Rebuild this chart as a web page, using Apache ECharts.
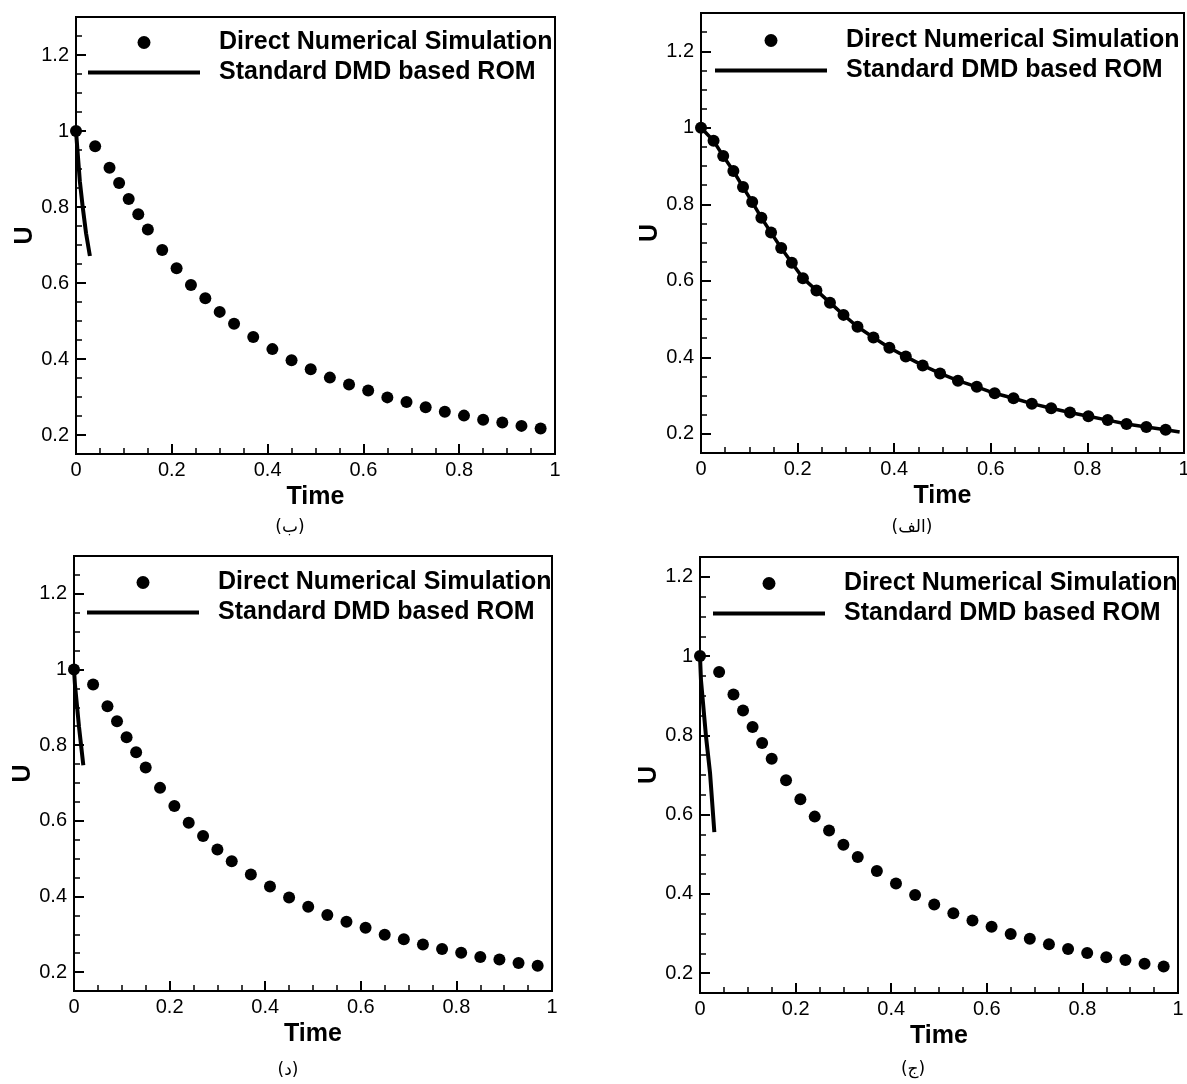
<!DOCTYPE html>
<html>
<head>
<meta charset="utf-8">
<title>DNS vs Standard DMD ROM</title>
<script src="https://cdn.jsdelivr.net/npm/echarts@6/dist/echarts.min.js"></script>
<style>
    html, body { margin: 0; padding: 0; background: #fff; }
    #chart { width: 1187px; height: 1084px; }
</style>
</head>
<body>
<div id="chart"></div>
<script>
// DNS markers used in panels ب, د and ج
var dnsTime = [0, 0.04, 0.07, 0.09, 0.11, 0.13, 0.15, 0.18, 0.21, 0.24, 0.27, 0.30, 0.33, 0.37, 0.41, 0.45, 0.49, 0.53, 0.57, 0.61, 0.65, 0.69, 0.73, 0.77, 0.81, 0.85, 0.89, 0.93, 0.97];
var dnsU = [1.0, 0.96, 0.903, 0.863, 0.821, 0.781, 0.741, 0.687, 0.639, 0.595, 0.560, 0.524, 0.493, 0.458, 0.426, 0.397, 0.373, 0.351, 0.333, 0.317, 0.299, 0.287, 0.273, 0.261, 0.251, 0.240, 0.233, 0.224, 0.217];

// panel الف : denser markers
var dnsTimeA = [0, 0.026, 0.046, 0.067, 0.087, 0.106, 0.125, 0.145, 0.166, 0.188, 0.211, 0.239, 0.267, 0.295, 0.324, 0.357, 0.390, 0.424, 0.459, 0.495, 0.532, 0.571, 0.608, 0.647, 0.685, 0.725, 0.764, 0.802, 0.842, 0.881, 0.922, 0.962];
var dnsUA = [1.0, 0.966, 0.926, 0.887, 0.845, 0.806, 0.765, 0.726, 0.686, 0.647, 0.607, 0.575, 0.543, 0.511, 0.480, 0.452, 0.425, 0.402, 0.379, 0.358, 0.339, 0.323, 0.306, 0.293, 0.279, 0.267, 0.256, 0.246, 0.236, 0.226, 0.218, 0.211];

// ROM curves
var romTimeA = [0, 0.026, 0.046, 0.067, 0.087, 0.106, 0.125, 0.145, 0.166, 0.188, 0.211, 0.239, 0.267, 0.295, 0.324, 0.357, 0.390, 0.424, 0.459, 0.495, 0.532, 0.571, 0.608, 0.647, 0.685, 0.725, 0.764, 0.802, 0.842, 0.881, 0.922, 0.962, 0.991];
var romUA = [1.0, 0.966, 0.926, 0.887, 0.845, 0.806, 0.765, 0.726, 0.686, 0.647, 0.607, 0.575, 0.543, 0.511, 0.480, 0.452, 0.425, 0.402, 0.379, 0.358, 0.339, 0.323, 0.306, 0.293, 0.279, 0.267, 0.256, 0.246, 0.236, 0.226, 0.218, 0.211, 0.205];
var romTimeB = [0, 0.003, 0.008, 0.014, 0.021, 0.029];
var romUB = [1.0, 0.95, 0.868, 0.80, 0.731, 0.671];
var romTimeD = [0, 0.002, 0.0105, 0.0195];
var romUD = [1.0, 0.96, 0.848, 0.747];
var romTimeJ = [0, 0.002, 0.0125, 0.021, 0.030];
var romUJ = [1.0, 0.94, 0.798, 0.705, 0.556];

var legendNames = ['Direct Numerical Simulation', 'Standard DMD based ROM'];
var yMajorTicks = [0.2, 0.4, 0.6, 0.8, 1.0, 1.2];
var yMinorTicks = [0.25, 0.3, 0.35, 0.45, 0.5, 0.55, 0.65, 0.7, 0.75, 0.85, 0.9, 0.95, 1.05, 1.1, 1.15, 1.25];

function zip(a, b) {
    return a.map(function (v, i) { return [v, b[i]]; });
}

var FONT = 'Liberation Sans, Arial, Helvetica, sans-serif';

var panels = [
    { grid: { left: 76, top: 17, width: 479, height: 437 }, yMax: 1.3,
      dns: zip(dnsTime, dnsU), rom: zip(romTimeB, romUB), romWidth: 4,
      legend: { left: 88, top: 30 }, caption: { text: '(ب)', x: 290, y: 528 } },
    { grid: { left: 701, top: 13, width: 483, height: 440 }, yMax: 1.3,
      dns: zip(dnsTimeA, dnsUA), rom: zip(romTimeA, romUA), romWidth: 3.5,
      legend: { left: 715, top: 28 }, caption: { text: '(الف)', x: 912, y: 528 } },
    { grid: { left: 74, top: 556, width: 478, height: 435 }, yMax: 1.3,
      dns: zip(dnsTime, dnsU), rom: zip(romTimeD, romUD), romWidth: 4,
      legend: { left: 87, top: 570 }, caption: { text: '(د)', x: 288, y: 1071 } },
    { grid: { left: 700, top: 557, width: 478, height: 436 }, yMax: 1.25,
      dns: zip(dnsTime, dnsU), rom: zip(romTimeJ, romUJ), romWidth: 4,
      legend: { left: 713, top: 571 }, caption: { text: '(ج)', x: 913, y: 1070 } }
];

var option = {
    animation: false,
    textStyle: { fontFamily: FONT, color: '#000' },
    grid: [], xAxis: [], yAxis: [], series: [], legend: [], graphic: []
};

panels.forEach(function (p, i) {
    option.grid.push(Object.assign({
        show: true, borderColor: '#000', borderWidth: 2, backgroundColor: 'transparent',
        outerBoundsMode: 'none', containLabel: false
    }, p.grid));

    option.xAxis.push({
        gridIndex: i, type: 'value', min: 0, max: 1, interval: 0.2,
        name: 'Time', nameLocation: 'middle', nameGap: 31,
        nameTextStyle: { fontSize: 25, fontWeight: 'bold', color: '#000', fontFamily: FONT },
        axisLine: { show: true, onZero: false, lineStyle: { color: '#000', width: 2 } },
        axisTick: { show: true, inside: true, length: 10, lineStyle: { color: '#000', width: 2 } },
        minorTick: { show: true, splitNumber: 4, length: 6, lineStyle: { color: '#000', width: 1.5 } },
        axisLabel: { color: '#000', fontSize: 20, margin: 6, fontFamily: FONT },
        splitLine: { show: false }
    });

    // major ticks + labels
    option.yAxis.push({
        gridIndex: i, type: 'value', min: 0.15, max: p.yMax, position: 'left',
        name: 'U', nameLocation: 'middle', nameRotate: 90, nameGap: 37,
        nameTextStyle: { fontSize: 25, fontWeight: 'bold', color: '#000', fontFamily: FONT },
        axisLine: { show: true, onZero: false, lineStyle: { color: '#000', width: 2 } },
        axisTick: { show: true, inside: true, length: 10, customValues: yMajorTicks, lineStyle: { color: '#000', width: 2 } },
        axisLabel: { color: '#000', fontSize: 20, margin: 7, customValues: yMajorTicks, fontFamily: FONT },
        splitLine: { show: false }
    });
    // minor ticks
    option.yAxis.push({
        gridIndex: i, type: 'value', min: 0.15, max: p.yMax, position: 'left', offset: 0,
        axisLine: { show: false },
        axisTick: { show: true, inside: true, length: 6, customValues: yMinorTicks, lineStyle: { color: '#000', width: 1.5 } },
        axisLabel: { show: false },
        splitLine: { show: false }
    });

    option.series.push({
        name: legendNames[1], type: 'line', xAxisIndex: i, yAxisIndex: i * 2,
        data: p.rom, symbol: 'none', showSymbol: false,
        lineStyle: { color: '#000', width: p.romWidth }, itemStyle: { color: '#000' },
        z: 2
    });
    option.series.push({
        name: legendNames[0], type: 'scatter', xAxisIndex: i, yAxisIndex: i * 2,
        data: p.dns, symbol: 'circle', symbolSize: 12,
        itemStyle: { color: '#000', opacity: 1 }, z: 3
    });

    option.legend.push({
        orient: 'vertical', left: p.legend.left, top: p.legend.top, padding: 0,
        itemWidth: 112, itemHeight: 13, itemGap: 5, selectedMode: false,
        data: [
            { name: legendNames[0], icon: 'circle' },
            { name: legendNames[1], icon: 'path://M0,0L112,0L112,4L0,4Z' }
        ],
        itemStyle: { color: '#000', opacity: 1 },
        textStyle: { fontSize: 25, fontWeight: 'bold', color: '#000', fontFamily: FONT, lineHeight: 25, padding: [0, 0, 0, 14] }
    });

    option.graphic.push({
        type: 'text', x: p.caption.x, y: p.caption.y,
        style: { text: p.caption.text, align: 'center', verticalAlign: 'middle', fontSize: 17, fontFamily: 'DejaVu Sans, sans-serif', fill: '#000' }
    });
});

var chart = echarts.init(document.getElementById('chart'), null, { renderer: 'canvas' });
chart.setOption(option);
</script>
</body>
</html>
